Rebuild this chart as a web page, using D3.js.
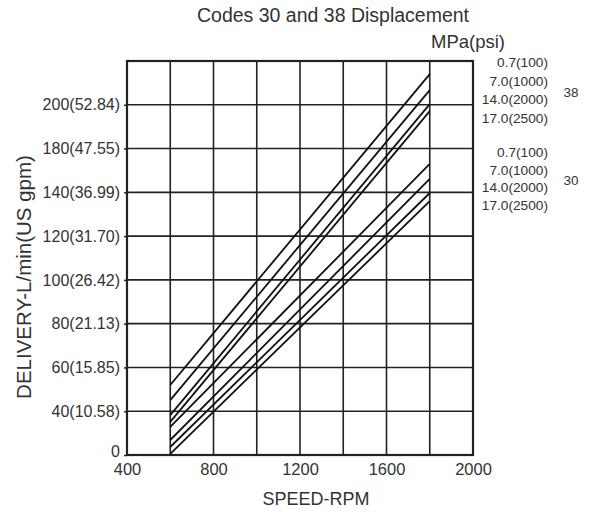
<!DOCTYPE html>
<html>
<head>
<meta charset="utf-8">
<script src="https://cdn.jsdelivr.net/npm/d3@7"></script>
<style>
  html, body { margin: 0; padding: 0; background: #fff; }
  svg { display: block; font-family: "Liberation Sans", Arial, sans-serif; }
</style>
</head>
<body>
<svg id="chart" width="590" height="512"></svg>
<script>
// Speed axis
const speedTicks = [400, 800, 1200, 1600, 2000];
const speedGrid = [400, 600, 800, 1000, 1200, 1400, 1600, 1800, 2000];

// Delivery axis: the printed scale is uneven, so each gridline carries its own value
const deliveryGrid = [0, 40, 60, 80, 100, 120, 140, 180, 200, 220];
const deliveryLabels = ["0", "40(10.58)", "60(15.85)", "80(21.13)", "100(26.42)",
  "120(31.70)", "140(36.99)", "180(47.55)", "200(52.84)", ""];

// Pressure settings
const pressureLabels = ["0.7(100)", "7.0(1000)", "14.0(2000)", "17.0(2500)"];

// Delivery (L/min) at 600 and 1800 rpm for each pressure
const rpm = [600, 1800];
const code38 = [[52.0, 214.0], [45.1, 206.7], [36.5, 200.3], [30.2, 197.1]];
const code30 = [[25.6, 165.9], [13.7, 152.2], [7.3, 139.7], [1.0, 136.0]];

const svg = d3.select("#chart");
const m = { left: 127, right: 473, top: 61, bottom: 455 };
const ink = "#222";
const textCol = "#333";
const font = "Liberation Sans, Arial, sans-serif";

const x = d3.scaleLinear().domain([400, 2000]).range([m.left, m.right]);
const y = d3.scaleLinear()
  .domain(deliveryGrid)
  .range(deliveryGrid.map((d, i) => m.bottom - i * (m.bottom - m.top) / (deliveryGrid.length - 1)));

// Grid
const grid = svg.append("g");
grid.selectAll("line.v").data(speedGrid).join("line")
  .attr("x1", d => x(d)).attr("x2", d => x(d))
  .attr("y1", m.top).attr("y2", m.bottom)
  .attr("stroke", ink).attr("stroke-width", 1.6);
grid.selectAll("line.h").data(deliveryGrid).join("line")
  .attr("x1", m.left).attr("x2", m.right)
  .attr("y1", d => y(d)).attr("y2", d => y(d))
  .attr("stroke", ink).attr("stroke-width", 1.6);

// Frame
svg.append("rect")
  .attr("x", m.left).attr("y", m.top)
  .attr("width", m.right - m.left).attr("height", m.bottom - m.top)
  .attr("fill", "none").attr("stroke", ink).attr("stroke-width", 2.2);

// Axes
const yAxis = d3.axisLeft(y).tickValues(deliveryGrid.slice(0, -1))
  .tickFormat((d, i) => deliveryLabels[i]).tickSize(3).tickPadding(4);
const gy = svg.append("g").attr("transform", `translate(${m.left},0)`).call(yAxis);
gy.select(".domain").remove();
gy.selectAll(".tick line").attr("stroke", ink).attr("stroke-width", 1.5);
gy.selectAll(".tick text").attr("fill", textCol).attr("font-size", 16)
  .attr("font-family", font).attr("dy", d => d === 0 ? "0.1em" : "0.32em");

const xAxis = d3.axisBottom(x).tickValues(speedTicks).tickFormat(d3.format("d"))
  .tickSize(0).tickPadding(8.5);
const gx = svg.append("g").attr("transform", `translate(0,${m.bottom})`).call(xAxis);
gx.select(".domain").remove();
gx.selectAll(".tick text").attr("fill", textCol).attr("font-size", 16.5)
  .attr("font-family", font);

// Delivery lines
const line = d3.line().x((d, i) => x(rpm[i])).y(d => y(d));
const lines = svg.append("g").attr("fill", "none").attr("stroke", "#111").attr("stroke-width", 1.8);
lines.selectAll("path.c38").data(code38).join("path").attr("d", line);
lines.selectAll("path.c30").data(code30).join("path").attr("d", line);

// Titles
svg.append("text").attr("x", 333).attr("y", 22).attr("text-anchor", "middle")
  .attr("font-size", 19.5).attr("fill", textCol).text("Codes 30 and 38 Displacement");
svg.append("text").attr("x", 505).attr("y", 48).attr("text-anchor", "end")
  .attr("font-size", 18.5).attr("fill", textCol).text("MPa(psi)");
svg.append("text").attr("x", 316).attr("y", 505).attr("text-anchor", "middle")
  .attr("font-size", 18).attr("fill", textCol).text("SPEED-RPM");
svg.append("text").attr("transform", "translate(31,277) rotate(-90)")
  .attr("text-anchor", "middle").attr("font-size", 20.5).attr("fill", textCol)
  .text("DELIVERY-L/min(US gpm)");

// Pressure legends for each code
const groups = [
  { code: "38", rows: [67, 85.5, 104, 122.5], mid: 97 },
  { code: "30", rows: [157, 175, 192, 209.5], mid: 185 }
];
groups.forEach(g => {
  svg.append("g").selectAll("text").data(pressureLabels).join("text")
    .attr("x", 548).attr("y", (d, i) => g.rows[i])
    .attr("text-anchor", "end").attr("font-size", 13.7).attr("fill", textCol)
    .text(d => d);
  svg.append("text").attr("x", 571).attr("y", g.mid).attr("text-anchor", "middle")
    .attr("font-size", 13.5).attr("fill", textCol).text(g.code);
});
</script>
</body>
</html>
